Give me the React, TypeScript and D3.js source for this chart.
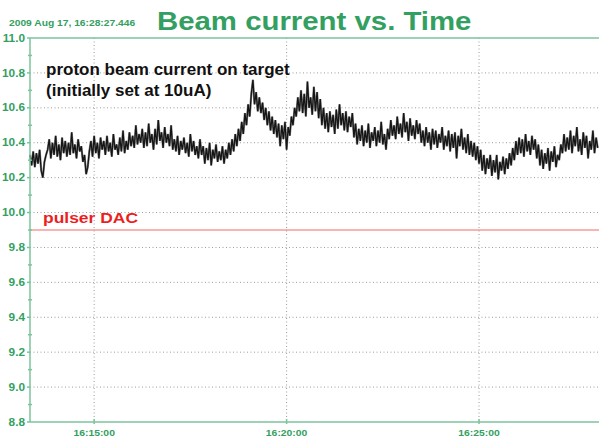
import React, { useRef, useEffect } from "react";
import * as d3 from "d3";

// axis values
const yTicks = [8.8, 9.0, 9.2, 9.4, 9.6, 9.8, 10.0, 10.2, 10.4, 10.6, 10.8, 11.0];
const yMinorTicks = [8.9, 9.1, 9.3, 9.5, 9.7, 9.9, 10.1, 10.3, 10.5, 10.7, 10.9];
const xTickTimes = ["16:15:00", "16:20:00", "16:25:00"];
const timeStart = "16:13:20";
const timeEnd = "16:28:07";
const sampleSeconds = 2.5;

// proton beam current (uA), one reading every 2.5 s from timeStart (one row per minute)
const beamCurrent = [
  10.33, 10.27, 10.35, 10.26, 10.34, 10.28, 10.36, 10.24, 10.2, 10.29, 10.33, 10.36, 10.42, 10.31, 10.4, 10.33, 10.44, 10.32, 10.39, 10.3, 10.43, 10.34, 10.41, 10.32,
  10.4, 10.33, 10.46, 10.34, 10.39, 10.31, 10.42, 10.35, 10.38, 10.29, 10.33, 10.22, 10.26, 10.35, 10.41, 10.32, 10.44, 10.34, 10.4, 10.31, 10.43, 10.36, 10.41, 10.33,
  10.44, 10.35, 10.4, 10.32, 10.45, 10.36, 10.39, 10.33, 10.43, 10.35, 10.47, 10.34, 10.41, 10.36, 10.46, 10.38, 10.44, 10.37, 10.5, 10.39, 10.45, 10.4, 10.48, 10.37,
  10.46, 10.38, 10.51, 10.4, 10.45, 10.36, 10.48, 10.39, 10.53, 10.41, 10.46, 10.37, 10.49, 10.4, 10.45, 10.38, 10.5, 10.36, 10.42, 10.35, 10.44, 10.33, 10.41, 10.36,
  10.43, 10.34, 10.4, 10.32, 10.45, 10.35, 10.41, 10.33, 10.38, 10.31, 10.42, 10.33, 10.38, 10.28, 10.37, 10.3, 10.4, 10.27, 10.36, 10.31, 10.39, 10.29, 10.35, 10.3,
  10.38, 10.28, 10.36, 10.31, 10.4, 10.33, 10.42, 10.35, 10.45, 10.38, 10.48, 10.41, 10.52, 10.45, 10.57, 10.5, 10.62, 10.55, 10.68, 10.76, 10.62, 10.69, 10.58, 10.66,
  10.57, 10.63, 10.53, 10.6, 10.5, 10.58, 10.47, 10.55, 10.45, 10.53, 10.43, 10.51, 10.38, 10.5, 10.42, 10.52, 10.36, 10.49, 10.44, 10.55, 10.5, 10.6, 10.55, 10.66,
  10.58, 10.7, 10.57, 10.68, 10.55, 10.75, 10.6, 10.66, 10.56, 10.72, 10.58, 10.69, 10.54, 10.65, 10.5, 10.6, 10.48, 10.57, 10.46, 10.58, 10.49, 10.56, 10.45, 10.59,
  10.48, 10.62, 10.5, 10.57, 10.47, 10.58, 10.46, 10.55, 10.49, 10.57, 10.43, 10.51, 10.39, 10.48, 10.41, 10.5, 10.38, 10.47, 10.4, 10.51, 10.37, 10.46, 10.41, 10.49,
  10.38, 10.47, 10.4, 10.52, 10.39, 10.45, 10.36, 10.48, 10.42, 10.53, 10.44, 10.5, 10.42, 10.55, 10.45, 10.51, 10.43, 10.57, 10.46, 10.52, 10.41, 10.54, 10.44, 10.5,
  10.42, 10.53, 10.45, 10.51, 10.4, 10.47, 10.38, 10.49, 10.4, 10.46, 10.36, 10.48, 10.39, 10.47, 10.37, 10.45, 10.4, 10.49, 10.36, 10.44, 10.38, 10.47, 10.35, 10.45,
  10.37, 10.46, 10.31, 10.44, 10.38, 10.48, 10.36, 10.43, 10.34, 10.45, 10.33, 10.41, 10.32, 10.4, 10.3, 10.38, 10.28, 10.36, 10.24, 10.33, 10.22, 10.31, 10.25, 10.33,
  10.21, 10.3, 10.23, 10.33, 10.19, 10.29, 10.24, 10.32, 10.22, 10.31, 10.25, 10.34, 10.27, 10.37, 10.3, 10.41, 10.33, 10.43, 10.34, 10.42, 10.32, 10.45, 10.35, 10.41,
  10.33, 10.44, 10.36, 10.42, 10.31, 10.39, 10.27, 10.36, 10.25, 10.34, 10.28, 10.37, 10.24, 10.35, 10.29, 10.38, 10.26, 10.33, 10.3, 10.39, 10.34, 10.45, 10.35, 10.43,
  10.36, 10.47, 10.34, 10.44, 10.38, 10.49, 10.35, 10.42, 10.33, 10.46, 10.37, 10.44, 10.31, 10.41, 10.36, 10.47, 10.34, 10.43, 10.37,
];

const pulserDac = 9.9;

const GREEN = "#33a061";
const AXIS_GREEN = "#7cc59b";
const FONT = "'Liberation Sans', Arial, sans-serif";
const STRETCH = 1.18; // the original labels are drawn a little wide

const BeamChart = ({ width = 599, height = 437 }) => {
  const ref = useRef<SVGSVGElement>(null);

  useEffect(() => {
    const svg = d3.select(ref.current);
    svg.selectAll("*").remove();

    const left = 30;
    const right = 599;
    const top = 38;
    const bottom = 422;

    const parse = d3.timeParse("%H:%M:%S");
    const t0 = parse(timeStart) as Date;
    const t1 = parse(timeEnd) as Date;

    const x = d3.scaleTime().domain([t0, t1]).range([left, right]);
    const y = d3.scaleLinear().domain([8.8, 11.0]).range([bottom, top]);

    svg.append("rect").attr("width", width).attr("height", height).attr("fill", "#fff");

    // dotted grid
    const grid = svg.append("g").attr("stroke", "#9c9c9c").attr("stroke-dasharray", "1,2.5");
    grid
      .selectAll("line.h")
      .data(yTicks.slice(1, -1))
      .enter()
      .append("line")
      .attr("x1", left)
      .attr("x2", right)
      .attr("y1", (d) => y(d))
      .attr("y2", (d) => y(d));
    grid
      .selectAll("line.v")
      .data(xTickTimes)
      .enter()
      .append("line")
      .attr("x1", (d) => x(parse(d) as Date))
      .attr("x2", (d) => x(parse(d) as Date))
      .attr("y1", top)
      .attr("y2", bottom);

    // pulser DAC level
    svg
      .append("line")
      .attr("x1", x(t0))
      .attr("x2", x(t1))
      .attr("y1", y(pulserDac))
      .attr("y2", y(pulserDac))
      .attr("stroke", "#f06a6a")
      .attr("stroke-width", 1);

    // beam trace: grey halo under a dark core
    const line = d3
      .line<number>()
      .x((d, i) => x(new Date(t0.getTime() + i * sampleSeconds * 1000)))
      .y((d) => y(d));
    svg
      .append("path")
      .datum(beamCurrent)
      .attr("d", line)
      .attr("fill", "none")
      .attr("stroke", "#8a8a8a")
      .attr("stroke-width", 2.2);
    svg
      .append("path")
      .datum(beamCurrent)
      .attr("d", line)
      .attr("fill", "none")
      .attr("stroke", "#151515")
      .attr("stroke-width", 1.3);

    // frame
    const frame = svg.append("g").attr("stroke", AXIS_GREEN).attr("stroke-width", 1.5);
    frame.append("line").attr("x1", left).attr("x2", right).attr("y1", top).attr("y2", top);
    frame.append("line").attr("x1", left).attr("x2", right).attr("y1", bottom).attr("y2", bottom);
    frame.append("line").attr("x1", left).attr("x2", left).attr("y1", top).attr("y2", bottom);

    frame
      .selectAll("line.minor")
      .data(yMinorTicks)
      .enter()
      .append("line")
      .attr("x1", left - 2)
      .attr("x2", left + 2)
      .attr("y1", (d) => y(d))
      .attr("y2", (d) => y(d));
    frame
      .selectAll("line.major")
      .data(yTicks)
      .enter()
      .append("line")
      .attr("x1", left - 3)
      .attr("x2", left)
      .attr("y1", (d) => y(d))
      .attr("y2", (d) => y(d));
    frame
      .selectAll("line.xt")
      .data(xTickTimes)
      .enter()
      .append("line")
      .attr("x1", (d) => x(parse(d) as Date))
      .attr("x2", (d) => x(parse(d) as Date))
      .attr("y1", bottom - 3)
      .attr("y2", bottom + 2);

    // tick labels
    svg
      .append("g")
      .selectAll("text")
      .data(yTicks)
      .enter()
      .append("text")
      .attr("transform", (d) => `translate(${left - 5},${y(d)}) scale(${STRETCH},1)`)
      .attr("dy", "0.36em")
      .attr("text-anchor", "end")
      .attr("font-family", FONT)
      .attr("font-size", 10)
      .attr("font-weight", "bold")
      .attr("fill", GREEN)
      .text((d) => d.toFixed(1));

    svg
      .append("g")
      .selectAll("text")
      .data(xTickTimes)
      .enter()
      .append("text")
      .attr("transform", (d) => `translate(${x(parse(d) as Date)},436) scale(${STRETCH},1)`)
      .attr("text-anchor", "middle")
      .attr("font-family", FONT)
      .attr("font-size", 8.8)
      .attr("font-weight", "bold")
      .attr("fill", GREEN)
      .text((d) => d);

    // titles and notes
    svg
      .append("text")
      .attr("transform", `translate(9,26) scale(${STRETCH},1)`)
      .attr("font-family", FONT)
      .attr("font-size", 8.7)
      .attr("font-weight", "bold")
      .attr("fill", GREEN)
      .text("2009 Aug 17, 16:28:27.446");

    svg
      .append("text")
      .attr("transform", `translate(157,30) scale(1.175,1)`)
      .attr("font-family", FONT)
      .attr("font-size", 25)
      .attr("font-weight", "bold")
      .attr("fill", GREEN)
      .text("Beam current vs. Time");

    svg
      .append("text")
      .attr("x", 46)
      .attr("y", 75)
      .attr("font-family", FONT)
      .attr("font-size", 17)
      .attr("font-weight", "bold")
      .attr("fill", "#111")
      .text("proton beam current on target");
    svg
      .append("text")
      .attr("x", 46)
      .attr("y", 96)
      .attr("font-family", FONT)
      .attr("font-size", 17)
      .attr("font-weight", "bold")
      .attr("fill", "#111")
      .text("(initially set at 10uA)");

    svg
      .append("text")
      .attr("x", 43)
      .attr("y", 223)
      .attr("font-family", FONT)
      .attr("font-size", 15)
      .attr("font-weight", "bold")
      .attr("fill", "#ec1f1f")
      .attr("textLength", 95)
      .attr("lengthAdjust", "spacingAndGlyphs")
      .text("pulser DAC");
  }, [width, height]);

  return (
    <svg
      ref={ref}
      width={width}
      height={height}
      style={{ position: "absolute", left: 0, top: 0, display: "block" }}
    />
  );
};

export default function App() {
  return <BeamChart />;
}
